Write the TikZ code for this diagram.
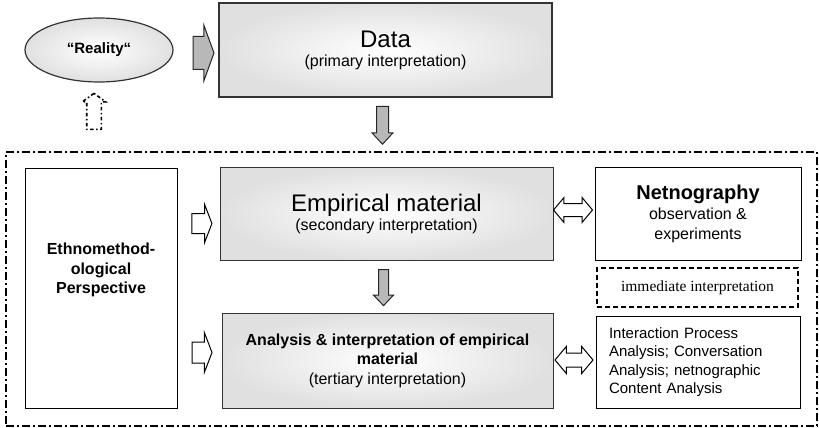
\documentclass[tikz,border=0pt]{standalone}
\usepackage{fontspec}
\setmainfont{Liberation Sans}
\newfontfamily\serifface{Liberation Serif}
\usetikzlibrary{shapes.geometric,shapes.arrows}
\newcommand{\headsize}{\fontsize{24}{26}\selectfont}
\newcommand{\subsize}{\fontsize{16}{19}\selectfont}
\newcommand{\boldsize}{\fontsize{16}{19.5}\selectfont}

\begin{document}
\begin{tikzpicture}[
      x=1pt, y=-1pt,
      every node/.style={align=center, inner sep=0pt},
      shaded/.style={draw=black!80, line width=1.2pt,
                     inner color=white, outer color=black!12},
      plain/.style={draw, line width=1pt, fill=white},
      frame/.style={draw, line width=1.5pt,
                    dash pattern=on 8pt off 3pt on 2pt off 3pt},
      garrow/.style={single arrow, draw=black!85, line width=1pt, fill=black!28, inner xsep=0pt},
      hollow/.style={single arrow, draw, line width=1pt, fill=white, inner xsep=0pt},
      dbl/.style={double arrow, draw, line width=1pt, fill=white, inner xsep=0pt},
  ]
  \useasboundingbox (0,0) rectangle (819,428);

  % Top row
  \node[shaded, ellipse, minimum width=148pt, minimum height=64pt,
        font=\fontsize{15}{18}\selectfont\bfseries] (reality) at (99,50) {“Reality“};
  \node[shaded, minimum width=333pt, minimum height=94pt, font=\subsize] (data) at (385.5,50)
        {{\headsize Data}\\(primary interpretation)};

  % Dash-dotted frame
  \node[frame, minimum width=811pt, minimum height=274pt] (frame) at (411.5,289) {};

  % Left column
  \node[plain, minimum width=152pt, minimum height=240pt,
        label={[font=\boldsize\bfseries, yshift=18pt]center:Ethnomethod-\\ological\\Perspective}]
        (ethno) at (101,288) {};

  % Middle column
  \node[shaded, line width=1pt, minimum width=333pt, minimum height=93pt, font=\subsize]
        (empir) at (386.5,213.5)
        {{\headsize Empirical material}\\(secondary interpretation)};
  \node[shaded, line width=1pt, minimum width=331pt, minimum height=95pt,
        font=\boldsize\bfseries] (anal) at (387.5,360.5)
        {Analysis \& interpretation of empirical\\material\\
         {\normalfont\subsize (tertiary interpretation)}};

  % Right column
  \node[plain, minimum width=206pt, minimum height=93pt, font=\fontsize{16}{20}\selectfont]
        (netno) at (698,213.5)
        {{\fontsize{20}{22}\selectfont\bfseries Netnography}\\observation \&\\experiments};
  \node[draw, line width=1.5pt, dash pattern=on 5pt off 3pt,
        minimum width=201pt, minimum height=39pt,
        font=\serifface\fontsize{15.5}{18}\selectfont] (immed) at (697.5,287.5)
        {immediate interpretation};
  \node[plain, minimum width=204pt, minimum height=92pt, text width=178pt, align=left,
        font=\fontsize{15}{18.3}\selectfont] (inter) at (698,362)
        {Interaction Process\\Analysis; Conversation\\Analysis; netnographic\\Content Analysis};

  % Block arrows
  \node[garrow, minimum height=21pt, inner ysep=16pt,
        single arrow head extend=11.5pt, single arrow tip angle=140] (a1) at (200.5,53) {};
  \node[garrow, rotate=-90, minimum height=38pt, inner ysep=5.5pt,
        single arrow head extend=4.5pt, single arrow tip angle=85] (a2) at (382.5,122) {};
  \node[garrow, rotate=-90, minimum height=36pt, inner ysep=4.5pt,
        single arrow head extend=5pt, single arrow tip angle=87] (a3) at (383.5,285) {};
  \node[hollow, minimum height=20pt, inner ysep=9.5pt,
        single arrow head extend=9pt, single arrow tip angle=138] (h1) at (200,223.5) {};
  \node[hollow, minimum height=20pt, inner ysep=10pt,
        single arrow head extend=9.5pt, single arrow tip angle=138] (h2) at (200,352.5) {};
  \node[dbl, minimum height=39pt, inner ysep=6pt,
        double arrow head extend=6pt, double arrow tip angle=100] (d1) at (573,210) {};
  \node[dbl, minimum height=38pt, inner ysep=6.5pt,
        double arrow head extend=6.5pt, double arrow tip angle=100] (d2) at (574,360) {};
  \node[single arrow, draw, line width=1.6pt, dash pattern=on 3.5pt off 2.5pt on 1.5pt off 2.5pt,
        rotate=90, minimum height=36pt, inner xsep=0pt, inner ysep=6.5pt,
        single arrow head extend=4.5pt, single arrow tip angle=108] (up) at (94,114) {};

\end{tikzpicture}
\end{document}
